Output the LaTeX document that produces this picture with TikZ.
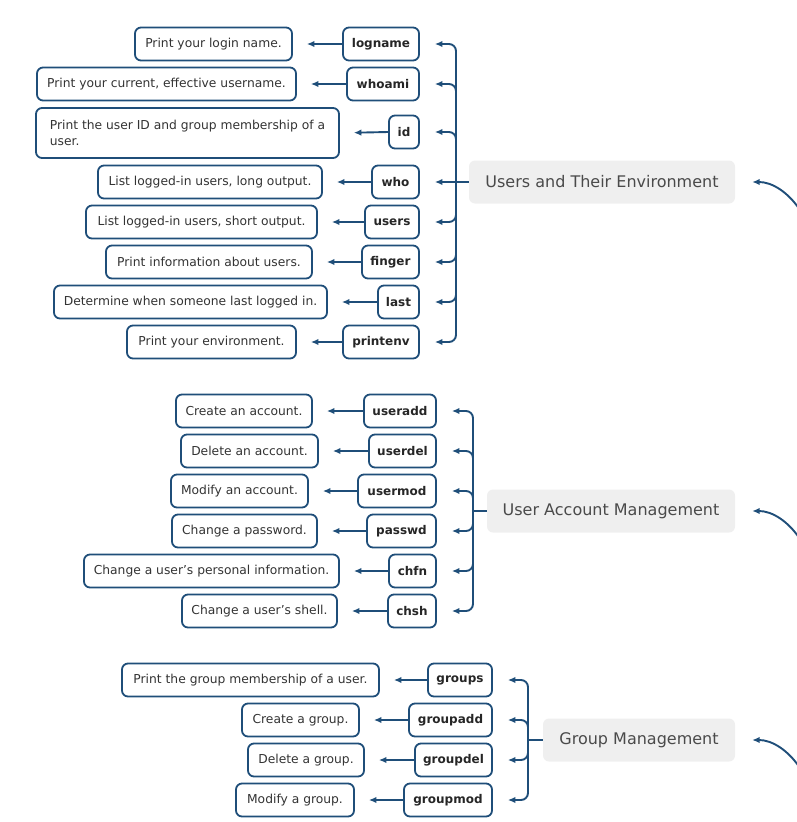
\documentclass[tikz,border=0pt]{standalone}
\usepackage{fontspec}
\setmainfont{DejaVu Sans}
\usetikzlibrary{arrows.meta}
\definecolor{bordc}{HTML}{1F4E79}
\definecolor{textc}{HTML}{333333}
\definecolor{catfill}{HTML}{EFEFEF}
\definecolor{cattext}{HTML}{4A4A4A}
\newcommand\fnt[2]{\fontsize{#1}{#2}\selectfont}
\newcommand\descbox[6]{\node[descnode, minimum width={#4-#3}, minimum height=#6] (#1) at ({(#3+#4)/2},#5) {#2};}
\newcommand\cmdbox[5]{\node[cmdnode, minimum width={#4-#3}] (#1) at ({(#3+#4)/2},#5) {#2};}
\newcommand\catbox[5]{\node[catnode, minimum width={#4-#3}] (#1) at ({(#3+#4)/2},#5) {#2};}
\begin{document}
\begin{tikzpicture}[x=1pt,y=-1pt,
  descnode/.style={draw=bordc, line width=1.8pt, rounded corners=6pt, fill=white,
    text=textc, inner sep=0pt, font=\fnt{12.3}{16.5}, align=left},
  cmdnode/.style={draw=bordc, line width=1.8pt, rounded corners=6pt, fill=white,
    text=black!85, inner sep=0pt, minimum height=33pt, font=\fnt{12}{14}\bfseries},
  catnode/.style={fill=catfill, rounded corners=6pt, text=cattext, inner sep=0pt,
    minimum height=43pt, font=\fnt{16}{18}},
  conn/.style={draw=bordc, line width=1.9pt, -{Latex[length=7.5pt,width=6.5pt]}},
  branch/.style={conn, rounded corners=7pt, shorten >=15pt},
  leaf/.style={conn, shorten >=14pt},
  parent/.style={conn, shorten >=17pt}
]
\useasboundingbox (0,0) rectangle (797,822);
% ---------- Section 1
\catbox{c1}{Users and Their Environment}{469}{735}{182}
\cmdbox{logname}{logname}{343}{419}{44}
\cmdbox{whoami}{whoami}{347}{419}{84}
\cmdbox{id}{id}{389}{419}{132}
\cmdbox{who}{who}{372}{419}{182}
\cmdbox{users}{users}{365}{419}{222}
\cmdbox{finger}{finger}{362}{419}{262}
\cmdbox{last}{last}{378}{419}{302}
\cmdbox{printenv}{printenv}{343}{419}{342}
\descbox{dlogname}{Print your login name.}{135}{292}{44}{33pt}
\descbox{dwhoami}{Print your current, effective username.}{37}{296}{84}{33pt}
\descbox{did}{Print the user ID and group membership of a\\user.}{36}{339}{133}{50pt}
\descbox{dwho}{List logged-in users, long output.}{98}{322}{182}{33pt}
\descbox{dusers}{List logged-in users, short output.}{86}{317}{222}{33pt}
\descbox{dfinger}{Print information about users.}{106}{312}{262}{33pt}
\descbox{dlast}{Determine when someone last logged in.}{54}{327}{302}{33pt}
\descbox{dprintenv}{Print your environment.}{127}{296}{342}{33pt}
\coordinate (b1) at (456,182);
\draw[conn, -] (c1.west) -- (b1);
\foreach \n in {logname,whoami,id,users,finger,last,printenv}{
  \draw[branch] (b1) |- (\n.east);
  \draw[leaf] (\n.west) -- (d\n.east);
}
\draw[branch] (b1) -- (who.east);
\draw[leaf] (who.west) -- (dwho.east);
\coordinate (p1) at (800,210);
\draw[parent] (p1) .. controls (788,192) and (772,182) .. (c1.east);
% ---------- Section 2
\catbox{c2}{User Account Management}{487}{735}{511}
\cmdbox{useradd}{useradd}{364}{436}{411}
\cmdbox{userdel}{userdel}{369}{436}{451}
\cmdbox{usermod}{usermod}{358}{436}{491}
\cmdbox{passwd}{passwd}{367}{436}{531}
\cmdbox{chfn}{chfn}{389}{436}{571}
\cmdbox{chsh}{chsh}{388}{436}{611}
\descbox{duseradd}{Create an account.}{176}{312}{411}{33pt}
\descbox{duserdel}{Delete an account.}{181}{318}{451}{33pt}
\descbox{dusermod}{Modify an account.}{171}{308}{491}{33pt}
\descbox{dpasswd}{Change a password.}{172}{317}{531}{33pt}
\descbox{dchfn}{Change a user’s personal information.}{84}{339}{571}{33pt}
\descbox{dchsh}{Change a user’s shell.}{182}{337}{611}{33pt}
\coordinate (b2) at (473,511);
\draw[conn, -] (c2.west) -- (b2);
\foreach \n in {useradd,userdel,usermod,passwd,chfn,chsh}{
  \draw[branch] (b2) |- (\n.east);
  \draw[leaf] (\n.west) -- (d\n.east);
}
\coordinate (p2) at (800,539);
\draw[parent] (p2) .. controls (788,521) and (772,511) .. (c2.east);
% ---------- Section 3
\catbox{c3}{Group Management}{543}{735}{740}
\cmdbox{groups}{groups}{428}{492}{680}
\cmdbox{groupadd}{groupadd}{409}{492}{720}
\cmdbox{groupdel}{groupdel}{415}{492}{760}
\cmdbox{groupmod}{groupmod}{404}{492}{800}
\descbox{dgroups}{Print the group membership of a user.}{122}{379}{680}{33pt}
\descbox{dgroupadd}{Create a group.}{242}{359}{720}{33pt}
\descbox{dgroupdel}{Delete a group.}{248}{364}{760}{33pt}
\descbox{dgroupmod}{Modify a group.}{236}{354}{800}{33pt}
\coordinate (b3) at (528,740);
\draw[conn, -] (c3.west) -- (b3);
\foreach \n in {groups,groupadd,groupdel,groupmod}{
  \draw[branch] (b3) |- (\n.east);
  \draw[leaf] (\n.west) -- (d\n.east);
}
\coordinate (p3) at (800,768);
\draw[parent] (p3) .. controls (788,750) and (772,740) .. (c3.east);
\end{tikzpicture}
\end{document}
